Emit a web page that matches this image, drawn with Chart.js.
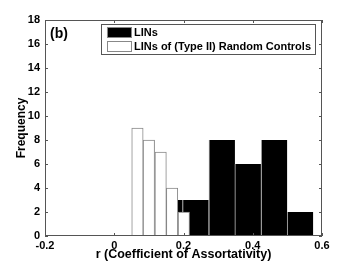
<!DOCTYPE html>
<html>
<head>
<meta charset="utf-8">
<script src="https://cdn.jsdelivr.net/npm/chart.js@4.4.1/dist/chart.umd.min.js"></script>
<style>
  html, body { margin: 0; padding: 0; background: #fff; }
  canvas { display: block; }
</style>
</head>
<body>
<canvas id="myChart" width="354" height="266"></canvas>
<script>
// values
const xTicks = [-0.2, 0, 0.2, 0.4, 0.6];
const yTicks = [0, 2, 4, 6, 8, 10, 12, 14, 16, 18];
const linCenters = [0.160, 0.235, 0.311, 0.386, 0.462, 0.537];
const linFreq = [3, 3, 8, 6, 8, 2];
const ctrlCenters = [0.067, 0.100, 0.134, 0.167, 0.201];
const ctrlFreq = [9, 8, 7, 4, 2];
const seriesNames = ['LINs', 'LINs of (Type II) Random Controls'];
const panelLabel = '(b)';
const xTitle = 'r (Coefficient of Assortativity)';
const yTitle = 'Frequency';

const FONT = '"Liberation Sans", Arial, Helvetica, sans-serif';
Chart.defaults.font.family = FONT;
Chart.defaults.font.weight = 'bold';
Chart.defaults.font.size = 11;
Chart.defaults.color = '#000';

const axisColor = '#555';

// box around the axes, inward ticks, legend and panel label (matlab look)
const frame = {
  id: 'frame',
  afterDatasetsDraw(chart) {
    const { ctx, chartArea: a, scales } = chart;
    const x = scales.x, y = scales.y;
    ctx.save();
    ctx.strokeStyle = axisColor;
    ctx.lineWidth = 1;
    ctx.strokeRect(a.left + 0.5, a.top + 0.5, a.right - a.left - 1, a.bottom - a.top - 1);
    ctx.beginPath();
    xTicks.forEach(v => {
      const px = Math.round(x.getPixelForValue(v)) + 0.5;
      ctx.moveTo(px, a.bottom); ctx.lineTo(px, a.bottom - 3);
      ctx.moveTo(px, a.top); ctx.lineTo(px, a.top + 3);
    });
    yTicks.forEach(v => {
      const py = Math.round(y.getPixelForValue(v)) + 0.5;
      ctx.moveTo(a.left, py); ctx.lineTo(a.left + 3, py);
      ctx.moveTo(a.right, py); ctx.lineTo(a.right - 3, py);
    });
    ctx.stroke();

    // panel label
    ctx.fillStyle = '#000';
    ctx.font = 'bold 14px ' + FONT;
    ctx.textBaseline = 'alphabetic';
    ctx.textAlign = 'left';
    ctx.fillText(panelLabel, a.left + 5, a.top + 18);

    // legend
    ctx.font = 'bold 11px ' + FONT;
    const tw = Math.max(...seriesNames.map(s => ctx.measureText(s).width));
    const bw = 6 + 24 + 3 + tw + 4;
    const bx = a.right - 7 - bw, by = a.top + 4, bh = 30;
    ctx.fillStyle = '#fff';
    ctx.fillRect(bx, by, bw, bh);
    ctx.strokeStyle = axisColor;
    ctx.strokeRect(Math.round(bx) + 0.5, by + 0.5, Math.round(bw), bh);
    const fills = ['#000', '#fff'];
    seriesNames.forEach((s, i) => {
      const sy = by + 3 + i * 14;
      ctx.fillStyle = fills[i];
      ctx.fillRect(bx + 6, sy, 24, 11);
      ctx.strokeStyle = '#888';
      ctx.strokeRect(Math.round(bx + 6) + 0.5, sy + 0.5, 24, 10);
      ctx.fillStyle = '#000';
      ctx.textBaseline = 'middle';
      ctx.fillText(s, bx + 33, sy + 6);
    });
    ctx.restore();
  }
};

const ctx = document.getElementById('myChart');

new Chart(ctx, {
  type: 'bar',
  data: {
    datasets: [{
      label: seriesNames[0],
      data: linCenters.map((c, i) => ({ x: c, y: linFreq[i] })),
      xAxisID: 'x2',
      backgroundColor: '#000',
      borderColor: '#aaa',
      borderWidth: { left: 1, right: 0, top: 0, bottom: 0 },
      barPercentage: 1,
      categoryPercentage: 1,
      grouped: false,
      order: 2
    }, {
      label: seriesNames[1],
      data: ctrlCenters.map((c, i) => ({ x: c, y: ctrlFreq[i] })),
      xAxisID: 'x',
      backgroundColor: '#fff',
      borderColor: '#888',
      borderWidth: 1,
      barPercentage: 1,
      categoryPercentage: 1,
      grouped: false,
      order: 1
    }]
  },
  options: {
    responsive: false,
    animation: false,
    devicePixelRatio: 1,
    layout: { padding: { left: 0, right: 32, top: 20, bottom: 0 } },
    plugins: { legend: { display: false }, tooltip: { enabled: false } },
    scales: {
      x: {
        type: 'linear',
        min: -0.2,
        max: 0.6,
        offset: false,
        grid: { display: false, drawTicks: false, offset: false },
        border: { display: false },
        afterBuildTicks: s => { s.ticks = xTicks.map(v => ({ value: v })); },
        afterFit: s => { s.height = 30; },
        ticks: {
          padding: 3,
          maxRotation: 0,
          callback: v => (v === 0 ? '0' : v.toFixed(1))
        },
        title: { display: true, text: xTitle, font: { size: 12.5 }, padding: { top: 0, bottom: 4 } }
      },
      x2: {
        type: 'linear',
        display: false,
        min: -0.2,
        max: 0.6,
        offset: false,
        grid: { offset: false },
        afterBuildTicks: s => { s.ticks = xTicks.map(v => ({ value: v })); }
      },
      y: {
        min: 0,
        max: 18,
        grid: { display: false, drawTicks: false },
        border: { display: false },
        afterBuildTicks: s => { s.ticks = yTicks.map(v => ({ value: v })); },
        afterFit: s => { s.width = 45; },
        ticks: { padding: 5 },
        title: { display: true, text: yTitle, font: { size: 12 }, padding: { top: 14, bottom: 0 } }
      }
    }
  },
  plugins: [frame]
});
</script>
</body>
</html>
